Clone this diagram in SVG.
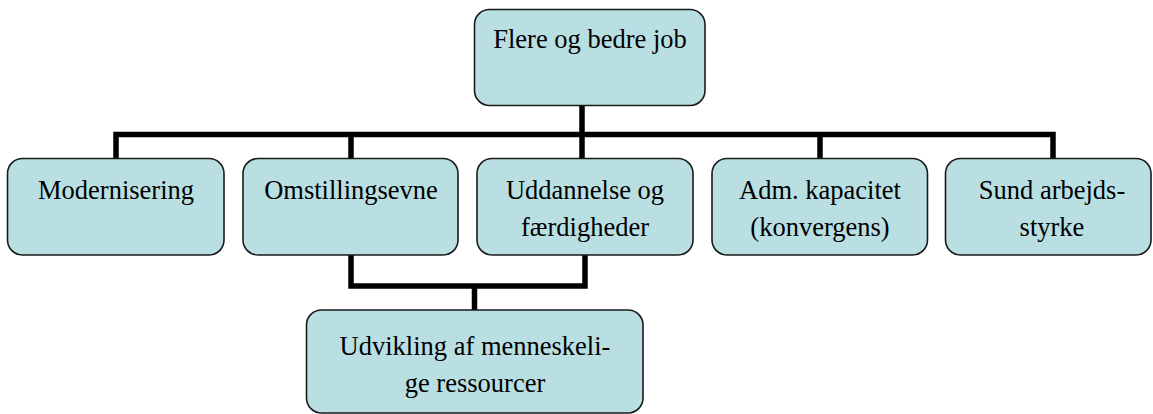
<svg xmlns="http://www.w3.org/2000/svg" width="1153" height="414" viewBox="0 0 1153 414">
<style>
.box{fill:#B9DFE3;stroke:#1a1a1a;stroke-width:1.6}
.t{font-family:'Liberation Serif','Times New Roman',serif;font-size:26.5px;fill:#000;text-anchor:middle}
.c{fill:none;stroke:#000;stroke-width:5.5;stroke-linejoin:miter;stroke-linecap:butt}
</style>
<rect width="1153" height="414" fill="#fff"/>
<g id="connectors">
<path class="c" d="M582,106 V158"/>
<path class="c" d="M116,158 V134.5 H1053 V158"/>
<path class="c" d="M351,134.5 V158"/>
<path class="c" d="M820,134.5 V158"/>
<path class="c" d="M351,255 V286 H585 V255"/>
<path class="c" d="M474.5,286 V310"/>
</g>
<g id="n-top">
<rect class="box" x="474.5" y="9.5" width="230.5" height="96" rx="15"/>
<text class="t" x="590" y="48">Flere og bedre job</text>
</g>
<g id="n-modernisering">
<rect class="box" x="7.5" y="158.5" width="216.5" height="96.5" rx="15"/>
<text class="t" x="116" y="199">Modernisering</text>
</g>
<g id="n-omstilling">
<rect class="box" x="243" y="158.5" width="215" height="96.5" rx="15"/>
<text class="t" x="351" y="199">Omstillingsevne</text>
</g>
<g id="n-uddannelse">
<rect class="box" x="477" y="158.5" width="216" height="96.5" rx="15"/>
<text class="t" x="585" y="199">Uddannelse og</text>
<text class="t" x="585" y="236">færdigheder</text>
</g>
<g id="n-adm">
<rect class="box" x="712" y="158.5" width="215.5" height="96.5" rx="15"/>
<text class="t" x="820" y="199">Adm. kapacitet</text>
<text class="t" x="820" y="236">(konvergens)</text>
</g>
<g id="n-sund">
<rect class="box" x="945.5" y="158.5" width="205.5" height="96.5" rx="15"/>
<text class="t" x="1052" y="199">Sund arbejds-</text>
<text class="t" x="1052" y="236">styrke</text>
</g>
<g id="n-udvikling">
<rect class="box" x="306.5" y="310" width="336.5" height="103" rx="15"/>
<text class="t" x="475" y="355">Udvikling af menneskeli-</text>
<text class="t" x="475" y="392">ge ressourcer</text>
</g>
</svg>
